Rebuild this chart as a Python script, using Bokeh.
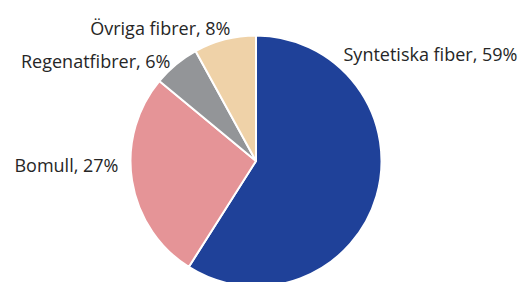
import numpy as np
from bokeh.plotting import figure
from bokeh.models import Range1d, ColumnDataSource
from bokeh.core.properties import value
from bokeh.embed import file_html
from bokeh.resources import INLINE

# ---- data ----
categories = ["Syntetiska fiber", "Bomull", "Regenatfibrer", "Övriga fibrer"]
shares = [59, 27, 6, 8]
colors = ["#1F4199", "#E59497", "#939598", "#EFD2A8"]

# ---- layout (screen pixels within the 530x282 window) ----
W, H = 530, 282
cx, cy, R = 255.5, 160.5, 125.5

def sy(y):
    return H - y

total = float(sum(shares))
frac = np.array(shares) / total
ends = 90 - np.cumsum(frac) * 360
starts = np.concatenate([[90], ends[:-1]])

src = ColumnDataSource(dict(
    start=np.radians(starts), end=np.radians(ends), color=colors,
))

p = figure(width=W, height=H, output_backend="svg", toolbar_location=None,
           x_range=Range1d(0, W), y_range=Range1d(0, H),
           min_border=0)
p.axis.visible = False
p.grid.visible = False
p.outline_line_color = None
p.background_fill_color = "white"
p.border_fill_color = "white"

p.wedge(x=cx, y=sy(cy), radius=R, start_angle="start", end_angle="end",
        direction="clock", fill_color="color", line_color="white",
        line_width=2, source=src)

# label anchors (screen px) and alignment
label_pos = [(343, 53, "left"), (118, 164, "right"), (170, 60, "right"), (230, 27, "right")]
labels = [f"{c}, {s}%" for c, s in zip(categories, shares)]
for (lx, ly, al), t in zip(label_pos, labels):
    p.text(x=[lx], y=[sy(ly)], text=[t], text_align=al, text_baseline="middle",
           text_font=value("Open Sans"), text_font_size="18px", text_color="#262626")

open("out.html", "w").write(file_html(p, INLINE))
